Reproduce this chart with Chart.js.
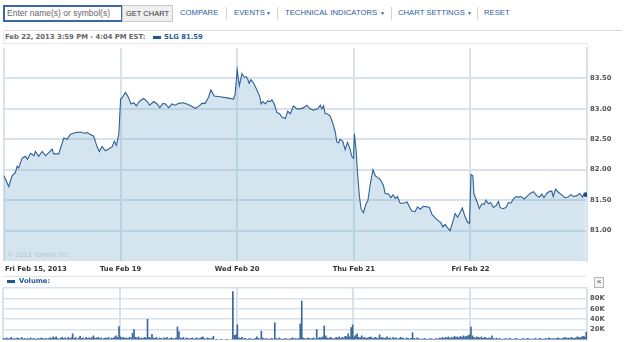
<!DOCTYPE html>
<html><head><meta charset="utf-8">
<script src="https://cdn.jsdelivr.net/npm/chart.js@4.4.0/dist/chart.umd.min.js"></script>
<style>
html,body{margin:0;padding:0;background:#fff;}
body{width:625px;height:342px;position:relative;overflow:hidden;font-family:"Liberation Sans",Arial,sans-serif;}
.a{position:absolute;white-space:nowrap;}
#search{left:3px;top:5px;width:114px;height:13px;border:2px solid #3a68a6;background:#fff;font-size:8.5px;color:#666;line-height:13px;padding-left:2px;}
#btn{left:122px;top:5px;width:49px;height:15px;border:1px solid #c9c9c9;background:#f0f0f0;color:#333;font-size:7.5px;line-height:15px;text-align:center;}
.lnk{top:8px;font-size:7.7px;color:#2a5d9a;line-height:10px;}
.tri{font-size:5px;color:#2a5d9a;top:9px;line-height:8px;}
.sep{top:7px;width:1px;height:13px;background:#d4d4d4;}
#topline{left:4px;top:30px;width:618px;height:1px;background:#dcdcdc;}
#hdr{left:3px;top:31px;width:584px;height:12px;border-left:1px solid #dfe6ec;border-bottom:1px solid #dfe6ec;}
.b{font-family:"DejaVu Sans",Verdana,sans-serif;font-weight:bold;font-size:6.8px;line-height:9px;}
#price{position:absolute;left:0;top:44px;}
#vol{position:absolute;left:0;top:287px;}
#sepline{left:4px;top:276px;width:583px;height:1px;background:#e3e3e3;}
#close{left:594px;top:277px;width:8px;height:9px;border:1px solid #b5b5b5;background:#f4f4f4;font-size:8px;line-height:8px;text-align:center;color:#444;}
</style></head>
<body>
<div class="a" id="search">Enter name(s) or symbol(s)</div>
<div class="a" id="btn">GET CHART</div>
<div class="a lnk" style="left:180px">COMPARE</div>
<div class="a sep" style="left:226px"></div>
<div class="a lnk" style="left:234px">EVENTS</div><div class="a tri" style="left:266px">&#9660;</div>
<div class="a sep" style="left:277px"></div>
<div class="a lnk" style="left:285px">TECHNICAL INDICATORS</div><div class="a tri" style="left:380px">&#9660;</div>
<div class="a sep" style="left:391px"></div>
<div class="a lnk" style="left:398px">CHART SETTINGS</div><div class="a tri" style="left:467px">&#9660;</div>
<div class="a sep" style="left:477px"></div>
<div class="a lnk" style="left:484px">RESET</div>
<div class="a" id="topline"></div>
<div class="a" id="hdr"></div>
<div class="a b" style="left:5px;top:33px;color:#666">Feb 22, 2013 3:59 PM - 4:04 PM EST:</div>
<div class="a" style="left:153px;top:36px;width:8px;height:3px;background:#1f5896"></div>
<div class="a b" style="left:164px;top:33px;color:#1f5b9a">SLG 81.59</div>
<canvas id="price" width="625" height="236"></canvas>
<div class="a" id="sepline"></div>
<div class="a" style="left:7px;top:280px;width:8px;height:3px;background:#1f5896"></div>
<div class="a b" style="left:19px;top:277px;color:#1f5b9a">Volume:</div>
<div class="a" id="close">&#215;</div>
<canvas id="vol" width="625" height="55"></canvas>
<script>
// ---- DATA ----
const dayLabels = ['Fri Feb 15, 2013', 'Tue Feb 19', 'Wed Feb 20', 'Thu Feb 21', 'Fri Feb 22'];
const yTickLabels = ['81.00', '81.50', '82.00', '82.50', '83.00', '83.50'];
const volTickLabels = ['20K', '40K', '60K', '80K'];

// minutes after 9:30 open, and SLG price
const feb15Min = [0,16,27,38,44,49,61,72,78,89,100,105,116,128,139,150,161,166,183,200,211,222,239,256,267,278,289,300,311,319,328,339,350,362,369,376,384];
const feb15Price = [81.90,81.72,81.90,81.95,82.06,82.03,82.19,82.22,82.17,82.27,82.23,82.30,82.22,82.30,82.23,82.28,82.34,82.26,82.26,82.52,82.50,82.58,82.61,82.62,82.60,82.61,82.58,82.55,82.38,82.30,82.38,82.31,82.34,82.38,82.47,82.40,82.58];
const feb19Min = [0,5,16,24,35,44,53,64,77,89,97,111,122,131,142,150,161,172,183,194,209,222,239,250,261,272,283,294,302,313,333,356,378,383];
const feb19Price = [83.16,83.18,83.27,83.21,83.08,83.10,83.05,83.13,83.17,83.12,83.06,83.12,83.08,83.02,83.09,83.08,83.02,83.08,83.06,83.09,83.10,83.08,83.04,83.01,83.04,83.09,83.09,83.19,83.31,83.21,83.20,83.18,83.16,83.24];
const feb20Min = [0,7,16,24,30,35,40,46,55,66,75,80,86,94,102,111,116,124,133,142,150,161,169,178,188,200,211,222,233,244,255,269,278,283,289,294,302,311,320,328,333,339,344,353,361,369,378,383,389];
const feb20Price = [83.64,83.38,83.58,83.52,83.53,83.49,83.42,83.48,83.42,83.31,83.21,83.08,83.12,83.08,83.13,83.12,83.15,83.08,82.94,82.92,82.86,82.84,82.96,82.92,83.05,83.00,83.00,83.02,83.06,83.00,82.98,83.00,83.06,83.00,83.05,82.92,82.92,82.88,82.76,82.62,82.46,82.44,82.50,82.47,82.33,82.45,82.33,82.22,82.19];
const feb21Min = [2,8,12,18,24,32,41,47,55,64,72,80,88,94,99,105,116,124,131,139,146,155,166,178,186,194,205,213,222,233,244,253,261,272,283,291,298,305,313,322,331,339,347,356,363,372,380,387];
const feb21Price = [82.59,82.30,81.98,81.60,81.36,81.29,81.44,81.49,81.76,82.00,81.90,81.87,81.84,81.79,81.74,81.61,81.60,81.54,81.59,81.53,81.56,81.45,81.45,81.47,81.39,81.32,81.31,81.39,81.35,81.40,81.39,81.38,81.27,81.21,81.16,81.13,81.06,81.10,81.05,81.00,81.14,81.28,81.22,81.30,81.37,81.23,81.14,81.12];
const feb22Min = [2,8,12,21,30,38,46,52,60,68,77,86,94,99,108,119,127,135,144,153,161,169,180,191,200,211,222,231,239,246,255,264,272,277,285,294,305,316,327,335,344,355,366,375,381,386];
const feb22Price = [81.92,81.90,81.60,81.49,81.36,81.44,81.43,81.50,81.44,81.46,81.38,81.41,81.48,81.38,81.36,81.38,81.46,81.45,81.52,81.56,81.55,81.56,81.52,81.57,81.61,81.64,81.57,81.55,81.60,81.54,81.61,81.64,81.65,81.56,81.68,81.63,81.59,81.54,81.55,81.59,81.56,81.57,81.61,81.55,81.61,81.59];

// volume per 5-minute bar, thousands of shares
const feb15Vol = [3,2,4,2,3,5,2,3,2,4,3,2,5,2,3,1,3,2,4,2,3,2,1,3,2,4,3,2,3,2,3,4,3,6,4,6,3,2,4,5,3,4,2,5,3,4,12,3,5,2,4,7,3,4,2,5,3,4,3,5,8,3,4,5,3,4,2,3,4,3,5,2,4,3,6,8,5,26];
const feb19Vol = [6,4,5,3,4,3,5,4,13,20,5,4,6,3,4,3,5,4,40,5,4,11,4,3,5,2,4,3,2,4,3,5,2,3,4,3,2,4,25,16,4,3,5,2,4,3,2,3,4,2,3,4,2,3,5,6,3,2,4,3,2,3,7,0,1,0,0,1,0,0,0,1,0,0,0,93,9,10];
const feb20Vol = [29,4,3,5,2,3,2,1,3,2,1,2,3,6,3,2,17,4,2,3,2,1,2,3,2,33,3,2,4,2,1,2,3,2,1,2,3,4,2,3,2,3,31,75,4,3,2,4,3,2,3,4,2,20,3,5,4,6,27,8,4,3,5,4,2,3,5,4,6,3,5,4,7,6,12,6,24,29];
const feb21Vol = [6,9,12,5,4,8,4,5,3,4,5,6,4,3,5,4,3,10,4,5,3,4,6,3,4,2,5,3,4,2,3,5,4,3,2,4,3,2,3,14,3,2,4,3,2,1,2,3,2,1,2,3,2,1,2,3,2,4,3,5,3,5,4,6,3,5,4,7,5,6,4,7,5,8,6,7,8,10];
const feb22Vol = [25,8,5,4,6,5,4,6,3,5,4,3,4,3,8,3,2,4,2,3,2,1,2,3,2,2,3,2,1,2,3,2,2,1,2,3,2,2,3,2,1,2,2,3,2,2,3,2,1,2,3,2,4,3,2,3,2,3,4,3,2,3,4,5,3,4,3,5,4,3,4,6,5,4,6,7,6,15];

// ---- BUILD ----
const DAY = 390;
const priceMins = [feb15Min, feb19Min, feb20Min, feb21Min, feb22Min];
const pricePrices = [feb15Price, feb19Price, feb20Price, feb21Price, feb22Price];
const pricePts = [];
priceMins.forEach((mins, d) => mins.forEach((m, i) => pricePts.push({x: d * DAY + m, y: pricePrices[d][i]})));
const vols = [feb15Vol, feb19Vol, feb20Vol, feb21Vol, feb22Vol];
const volPts = [];
vols.forEach((arr, d) => arr.forEach((v, i) => volPts.push({x: d * DAY + i * 5 + 2.5, y: v})));

const GRID = '#d8e2ea';
const tickFont = {family: 'DejaVu Sans', weight: 'bold', size: 6.8};
function fitY(s) { s.width = 38; s.paddingTop = 0; s.paddingBottom = 0; }
function fitX(h) { return s => { s.height = h; s.paddingLeft = 0; s.paddingRight = 0; }; }

const labelPlugin = {
  id: 'labels',
  afterDraw(chart) {
    const ctx = chart.ctx, xs = chart.scales.x, ca = chart.chartArea;
    ctx.save();
    ctx.font = '7.3px "Liberation Sans", Arial, sans-serif';
    ctx.fillStyle = '#b6c4d0';
    ctx.textAlign = 'left'; ctx.textBaseline = 'middle';
    ctx.fillText('\u00a9 2013 Yahoo! Inc.', ca.left + 4, ca.bottom - 6);
    ctx.font = 'bold 6.8px "DejaVu Sans"';
    ctx.fillStyle = '#333';
    dayLabels.forEach((lab, i) => {
      const x = xs.getPixelForValue(i * DAY);
      ctx.textAlign = i === 0 ? 'left' : 'center';
      ctx.fillText(lab, i === 0 ? x + 1 : x, ca.bottom + 8);
    });
    ctx.restore();
  }
};

new Chart(document.getElementById('price'), {
  type: 'line',
  data: {datasets: [{
    data: pricePts,
    borderColor: '#2f6096', borderWidth: 1.1,
    backgroundColor: 'rgba(115,168,205,0.3)', fill: 'start',
    pointRadius: c => c.dataIndex === pricePts.length - 1 ? 2.3 : 0,
    pointBackgroundColor: '#1f4f86', pointBorderWidth: 0,
    tension: 0
  }]},
  options: {
    responsive: false, animation: false, devicePixelRatio: 1,
    layout: {padding: {left: 3, right: 0, top: 0, bottom: 0}},
    plugins: {legend: {display: false}, tooltip: {enabled: false}},
    scales: {
      x: {type: 'linear', min: 0, max: 5 * DAY,
        grid: {color: GRID, lineWidth: 2, drawTicks: false},
        border: {display: false},
        ticks: {display: false, stepSize: DAY},
        afterFit: fitX(19)},
      y: {position: 'right', min: 80.5, max: 84,
        grid: {color: c => yTickLabels.includes(Number(c.tick.value).toFixed(2)) ? GRID : 'rgba(0,0,0,0)', lineWidth: 2, drawTicks: false},
        border: {color: GRID, width: 2},
        ticks: {stepSize: 0.5, padding: 3, color: '#555', font: tickFont, autoSkip: false,
          callback: v => yTickLabels.includes(Number(v).toFixed(2)) ? Number(v).toFixed(2) : ''},
        afterFit: fitY}
    }
  },
  plugins: [labelPlugin]
});

new Chart(document.getElementById('vol'), {
  type: 'bar',
  data: {datasets: [{data: volPts, backgroundColor: '#3a689c', barThickness: 1, borderWidth: 0}]},
  options: {
    responsive: false, animation: false, devicePixelRatio: 1,
    layout: {padding: {left: 3, right: 0, top: 1, bottom: 0}},
    plugins: {legend: {display: false}, tooltip: {enabled: false}},
    scales: {
      x: {type: 'linear', min: 0, max: 5 * DAY, offset: false,
        grid: {color: GRID, lineWidth: 2, drawTicks: false, offset: false},
        border: {display: false},
        ticks: {display: false, stepSize: DAY},
        afterFit: fitX(2)},
      y: {position: 'right', min: 0, max: 100,
        grid: {color: c => c.tick.value === 0 ? 'rgba(0,0,0,0)' : GRID, lineWidth: 1.5, drawTicks: false},
        border: {color: GRID, width: 2},
        ticks: {stepSize: 20, padding: 3, color: '#555', font: tickFont, autoSkip: false,
          callback: v => volTickLabels.includes(v + 'K') ? v + 'K' : ''},
        afterFit: fitY}
    }
  }
});
</script>
</body></html>
